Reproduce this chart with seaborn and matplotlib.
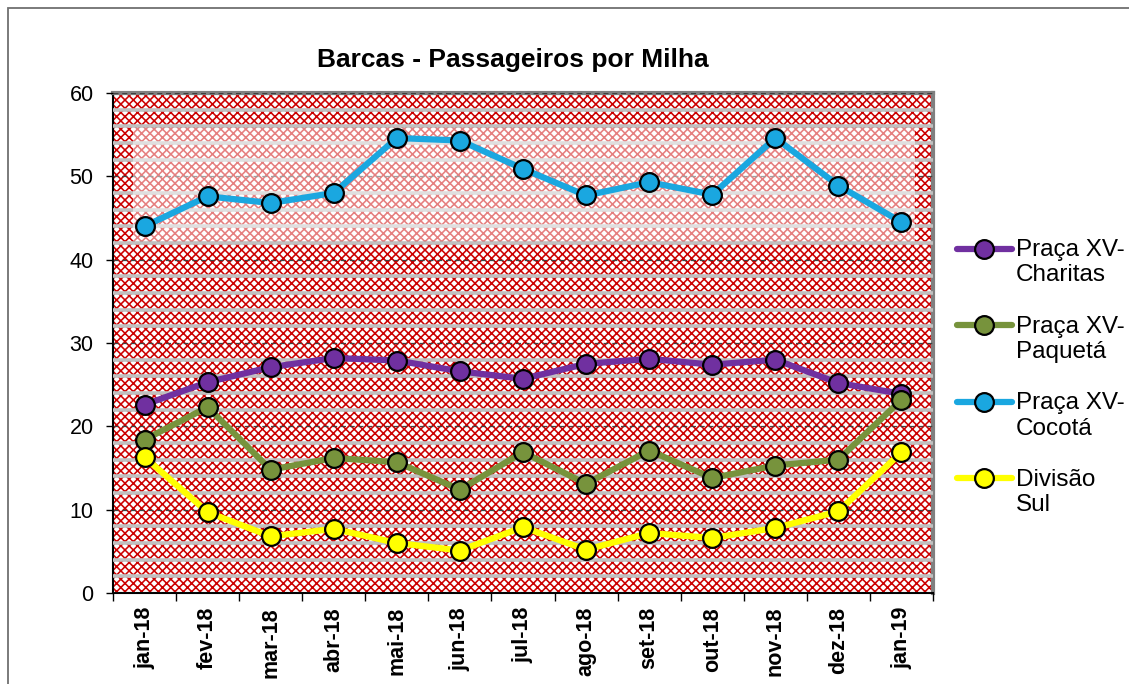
import seaborn as sns
import pandas as pd
import matplotlib.pyplot as plt
from matplotlib.patches import Rectangle
from matplotlib.ticker import FixedLocator, MultipleLocator
from matplotlib.legend_handler import HandlerLine2D

meses = ['jan-18', 'fev-18', 'mar-18', 'abr-18', 'mai-18', 'jun-18', 'jul-18',
         'ago-18', 'set-18', 'out-18', 'nov-18', 'dez-18', 'jan-19']
charitas = [22.6, 25.3, 27.1, 28.2, 27.9, 26.6, 25.7, 27.5, 28.1, 27.4, 28.0, 25.2, 23.9]
paqueta = [18.4, 22.3, 14.8, 16.2, 15.7, 12.4, 16.9, 13.1, 17.1, 13.8, 15.3, 16.0, 23.2]
cocota = [44.0, 47.6, 46.8, 48.0, 54.6, 54.3, 50.9, 47.7, 49.3, 47.8, 54.6, 48.9, 44.5]
div_sul = [16.3, 9.7, 6.8, 7.7, 6.0, 5.1, 7.9, 5.2, 7.2, 6.6, 7.8, 9.8, 16.9]

series = ['Praça XV-\nCharitas', 'Praça XV-\nPaquetá', 'Praça XV-\nCocotá', 'Divisão\nSul']
cores = ['#7030A0', '#77933C', '#1AA7E0', '#FFFF00']

df = pd.DataFrame({
    'mes': meses * 4,
    'valor': charitas + paqueta + cocota + div_sul,
    'linha': [series[0]] * 13 + [series[1]] * 13 + [series[2]] * 13 + [series[3]] * 13,
})

sns.set_theme(style='white')
plt.rcParams['font.family'] = ['Liberation Sans', 'DejaVu Sans']
plt.rcParams['hatch.linewidth'] = 1.15
for k in ['text.color', 'axes.labelcolor', 'xtick.color', 'ytick.color']:
    plt.rcParams[k] = 'black'

fig = plt.figure(figsize=(11.29, 6.84), dpi=100)
ax = fig.add_axes([113 / 1129, 1 - 593 / 684, 820 / 1129, 500 / 684])

# fundo xadrez vermelho
ax.add_patch(Rectangle((0, 0), 1, 1, transform=ax.transAxes, facecolor='white',
                       edgecolor='#CC0000', hatch='xxxx', linewidth=0, zorder=0.1))
# area desbotada (artefato da imagem)
ax.add_patch(Rectangle((0.024, 0.704), 0.954, 0.226, transform=ax.transAxes,
                       facecolor='white', alpha=0.5, linewidth=0, zorder=2.7))

sns.lineplot(data=df, x='mes', y='valor', hue='linha', palette=cores, sort=False,
             marker='o', markersize=13.5, markeredgecolor='black', markeredgewidth=1.6,
             linewidth=4.5, ax=ax, zorder=3, legend=False)

ax.set_xlim(-0.5, 12.5)
ax.set_ylim(0, 60)
ax.yaxis.set_major_locator(MultipleLocator(10))
ax.yaxis.set_minor_locator(FixedLocator([v for v in range(2, 60, 2) if v % 10]))
ax.set_xticks(range(13))
ax.set_xticklabels(meses, rotation=90, fontweight='bold', fontsize=15.5)
ax.xaxis.set_minor_locator(FixedLocator([i - 0.5 for i in range(14)]))
ax.tick_params(axis='x', which='major', length=0, pad=10)
ax.tick_params(axis='x', which='minor', length=6, width=1, color='black', direction='out', bottom=True)
ax.tick_params(axis='y', which='major', length=5, width=1, color='black', direction='out', left=True,
               labelsize=15.5, pad=9)
ax.tick_params(axis='y', which='minor', length=0)

ax.grid(False)
ax.set_axisbelow(False)
ax.grid(axis='y', which='minor', color='#C0C0C0', linewidth=2.6, linestyle='-')
ax.grid(axis='y', which='major', color='#404040', linewidth=0.9, linestyle=(0, (4, 3)))

ax.set_xlabel('')
ax.set_ylabel('')
for s in ['left', 'bottom']:
    ax.spines[s].set_color('black')
    ax.spines[s].set_linewidth(1.5)
for s in ['top', 'right']:
    ax.spines[s].set_color('#808080')
    ax.spines[s].set_linewidth(3)

ax.set_title('Barcas - Passageiros por Milha', fontsize=19, fontweight='bold', pad=19, x=0.487)


class PrimeiraLinha(HandlerLine2D):
    # alinha o simbolo com a primeira linha do texto
    def create_artists(self, legend, orig_handle, xdescent, ydescent, width, height, fontsize, trans):
        return super().create_artists(legend, orig_handle, xdescent, ydescent - 1.15 * fontsize,
                                      width, height, fontsize, trans)


handles = ax.get_lines()[:4]
leg = fig.legend(handles, series, loc='upper left', bbox_to_anchor=(957 / 1129, 1 - 239 / 684),
                 frameon=False, fontsize=17.5, handlelength=2.25, handletextpad=0.17,
                 labelspacing=1.2, numpoints=1, borderpad=0, borderaxespad=0,
                 handler_map={h: PrimeiraLinha(numpoints=1) for h in handles})

# moldura da area do grafico
fig.patches.append(Rectangle((8 / 1129, -0.1), 2, 1.1 - 8 / 684, transform=fig.transFigure,
                             fill=False, edgecolor='#707070', linewidth=1.3))

fig.savefig('out.png', dpi=100)
